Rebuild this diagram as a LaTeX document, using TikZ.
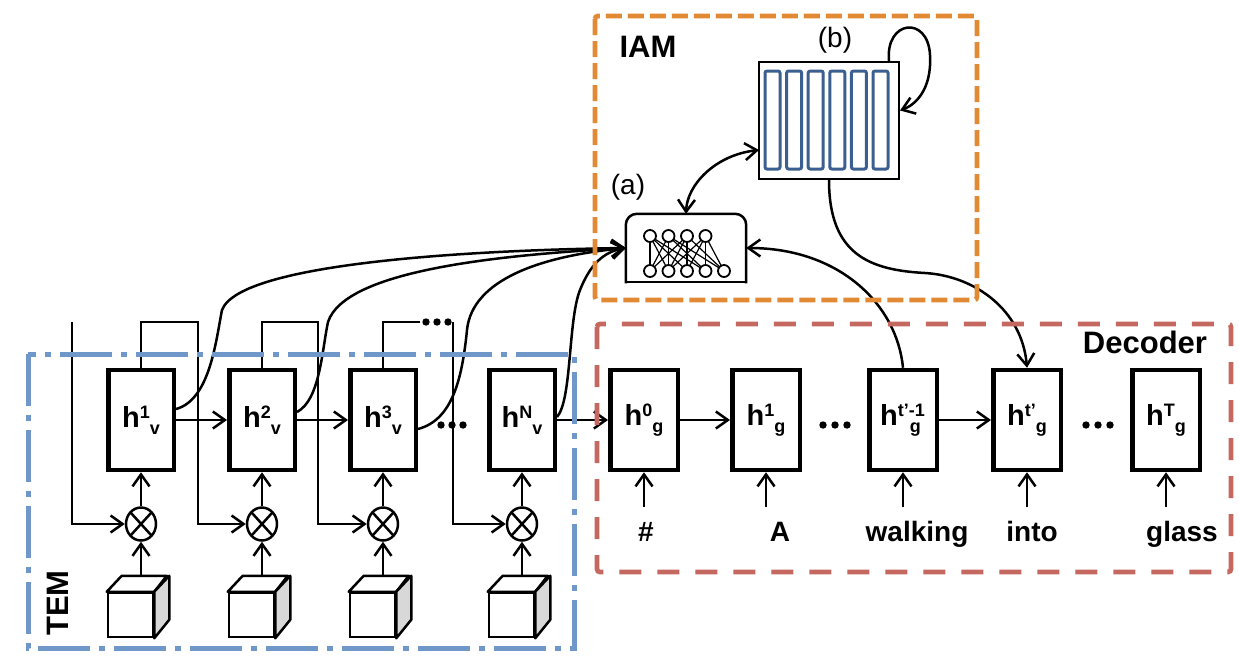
\documentclass[tikz,border=0pt]{standalone}
\usepackage{fontspec}
\setmainfont{Liberation Sans}
\usetikzlibrary{arrows.meta,shapes.geometric}
\definecolor{iamc}{RGB}{226,137,52}
\definecolor{decc}{RGB}{196,104,96}
\definecolor{temc}{RGB}{111,151,201}
\definecolor{memc}{RGB}{59,95,145}
\definecolor{cubeg}{RGB}{216,216,216}
\newcommand\ssz{\fontsize{18}{18}\selectfont}
\newcommand\hlab[2]{h\raisebox{9pt}{\ssz #1}\raisebox{-7pt}{\ssz #2}}
\begin{document}
\begin{tikzpicture}[x=1pt,y=-1pt,
  thinl/.style={line width=2.5pt},
  arr/.style={thinl,-{Straight Barb[length=12pt,width=17pt]}},
  dbl/.style={thinl,{Straight Barb[length=12pt,width=17pt]}-{Straight Barb[length=12pt,width=17pt]}},
  hbox/.style={draw, line width=4.5pt, minimum width=65.5pt, minimum height=100pt, inner sep=0pt,
    font=\fontsize{29}{30}\selectfont\bfseries},
  dbox/.style={hbox, minimum width=67.5pt},
  otimes/.style={draw, ellipse, line width=2.5pt, minimum width=30pt, minimum height=33pt, inner sep=0pt,
    path picture={\draw[line width=2.5pt] (path picture bounding box.south west) -- (path picture bounding box.north east)
      (path picture bounding box.north west) -- (path picture bounding box.south east);}},
  cubef/.style={draw, line width=2.5pt, fill=white, minimum width=45pt, minimum height=44pt, inner sep=0pt},
  cubel/.style={line width=2.5pt, line join=round},
  wordlab/.style={font=\fontsize{28}{30}\selectfont\bfseries, inner sep=0pt, anchor=base},
  head/.style={font=\fontsize{31}{33}\selectfont\bfseries, inner sep=0pt},
  plab/.style={font=\fontsize{28}{30}\selectfont, inner sep=0pt}
]
\useasboundingbox (0,0) rectangle (1239,659);
\fill[white] (0,0) rectangle (1239,659);

% ---------- TEM ----------
\node[hbox] (v1) at (141,420) {\hlab{1}{v}};
\node[hbox] (v2) at (262,420) {\hlab{2}{v}};
\node[hbox] (v3) at (383,420) {\hlab{3}{v}};
\node[hbox] (vN) at (522,420) {\hlab{N}{v}};

\foreach \i/\cx in {1/141,2/262,3/383,4/522}{
  \node[otimes] (x\i) at (\cx,524) {};
  \node[cubef] (cf\i) at (\cx-10.5,615) {};
  \draw[cubel, fill=white] (cf\i.north west) -- ++(15,-16) -- ++(45,0) -- (cf\i.north east) -- cycle;
  \draw[cubel, fill=cubeg] (cf\i.north east) -- ++(15,-16) -- ++(0,44) -- (cf\i.south east) -- cycle;
  \coordinate (ct\i) at (\cx,576);
  \draw[arr] (ct\i) -- (x\i.south);
}
\draw[arr] (x1.north) -- (v1.south);
\draw[arr] (x2.north) -- (v2.south);
\draw[arr] (x3.north) -- (v3.south);
\draw[arr] (x4.north) -- (vN.south);

\draw[arr] (v1.east) -- (v2.west);
\draw[arr] (v2.east) -- (v3.west);

% feed lines
\coordinate (f0) at (72,322);
\draw[arr] (f0) |- (x1.west);
\draw[arr] (v1.north) |- (198,322) |- (x2.west);
\draw[arr] (v2.north) |- (318,322) |- (x3.west);
\draw[thinl] (v3.north) |- (420,322);
\foreach \px in {426,437,448} \fill (\px,322) circle (3.7pt);
\coordinate (f3) at (453,322);
\draw[arr] (f3) |- (x4.west);
\foreach \px in {441,452,463} \fill (\px,425) circle (3.7pt);

\node[head, rotate=90] (teml) at (58,603) {TEM};

% ---------- Decoder ----------
\node[dbox] (g0) at (644,420) {\hlab{0}{g}};
\node[dbox] (g1) at (766,420) {\hlab{1}{g}};
\node[dbox] (gtm) at (903,420) {h\raisebox{9pt}{\ssz t’-1}\kern-15pt\raisebox{-7pt}{\ssz g}\kern5pt};
\node[dbox] (gt) at (1027,420) {\hlab{t’}{g}};
\node[dbox] (gT) at (1166,420) {\hlab{T}{g}};

\draw[arr] (vN.east) -- (g0.west);
\draw[arr] (g0.east) -- (g1.west);
\draw[arr] (gtm.east) -- (gt.west);
\foreach \px in {823,835,847} \fill (\px,425) circle (3.7pt);
\foreach \px in {1086,1098,1110} \fill (\px,425) circle (3.7pt);

\node[wordlab] (w0) at (646,541) {\#};
\node[wordlab] (w1) at (780,541) {A};
\node[wordlab] (w2) at (917,541) {walking};
\node[wordlab] (w3) at (1032,541) {into};
\node[wordlab] (w4) at (1182,541) {glass};
\coordinate (i0) at (644,507);
\coordinate (i1) at (766,507);
\coordinate (i2) at (903,507);
\coordinate (i3) at (1027,507);
\coordinate (i4) at (1166,507);
\draw[arr] (i0) -- (g0.south);
\draw[arr] (i1) -- (g1.south);
\draw[arr] (i2) -- (gtm.south);
\draw[arr] (i3) -- (gt.south);
\draw[arr] (i4) -- (gT.south);

\node[head, anchor=base] (decl) at (1145,353) {Decoder};

% ---------- IAM ----------
\node[head] (iaml) at (648,47) {IAM};
\node[plab] (bl) at (835,40) {(b)};
\node[plab] (al) at (628,187) {(a)};

\node[draw, line width=2pt, minimum width=140pt, minimum height=117pt, inner sep=0pt] (B) at (829,120.5) {};
\foreach \k in {0,...,5}
  \draw[memc, line width=3pt, rounded corners=2pt] (765+\k*21.6,71) rectangle ++(15,98);

\node[minimum width=120pt, minimum height=68pt, inner sep=0pt] (A) at (686,248) {};
\draw[line width=2.5pt, rounded corners=11pt, line cap=rect] (A.south west) -- (A.north west) -- (A.north east) -- (A.south east);
\draw[line width=2.5pt, line cap=rect] (A.south west) -- (A.south east);

% neural net inside (a)
\foreach \t/\b in {1/1,1/2,1/3,1/4,2/1,2/2,2/4,2/5,3/1,3/2,3/3,3/5,4/2,4/3,4/4,4/5}
  \draw[line width=1.2pt] ({650+(\t-1)*18.5},236) -- ({650+(\b-1)*18.5},271);
\foreach \t in {1,...,4} \draw[line width=1.8pt, fill=white] ({650+(\t-1)*18.5},236) circle (6pt);
\foreach \b in {1,...,5} \draw[line width=1.8pt, fill=white] ({650+(\b-1)*18.5},271) circle (6pt);

% IAM connectors
\coordinate (Bw) at (759,150);
\draw[dbl] (A.north) .. controls (687,185) and (715,155) .. (Bw);
\draw[arr] ([xshift=-11pt]B.north east) .. controls (885,20) and (928,15) .. (930,55) .. controls (932,90) and (915,105) .. ([yshift=10pt]B.east);
\draw[arr] (B.south) .. controls (829,255) and (870,270) .. (925,273) .. controls (975,276) and (1022,310) .. (gt.north);
\draw[arr] (gtm.north) .. controls (897,305) and (840,248) .. (A.east);

% TEM -> (a)
\draw[arr] ([yshift=11pt]v1.east) .. controls (210,400) and (216,340) .. (222,310) .. controls (240,262) and (480,250) .. (A.west);
\draw[arr] ([yshift=8pt]v2.east) .. controls (320,400) and (322,350) .. (328,322) .. controls (345,270) and (500,255) .. (A.west);
\draw[arr] ([yshift=-9pt]v3.east) .. controls (452,420) and (462,380) .. (467,330) .. controls (472,280) and (540,256) .. (A.west);
\draw[arr] ([yshift=3pt]vN.east) .. controls (572,400) and (568,320) .. (580,290) .. controls (590,265) and (603,252) .. (A.west);

% ---------- dashed frames ----------
\draw[iamc, line width=4.8pt, dash pattern=on 16pt off 6pt, rounded corners=3pt] (595,16) rectangle (977,300);
\draw[decc, line width=4.8pt, dash pattern=on 22pt off 16pt, rounded corners=3pt] (597,324) rectangle (1231,572);
\draw[temc, line width=5pt, dash pattern=on 52pt off 9pt on 6pt off 9pt] (28,354) rectangle (574,648);
\end{tikzpicture}
\end{document}
